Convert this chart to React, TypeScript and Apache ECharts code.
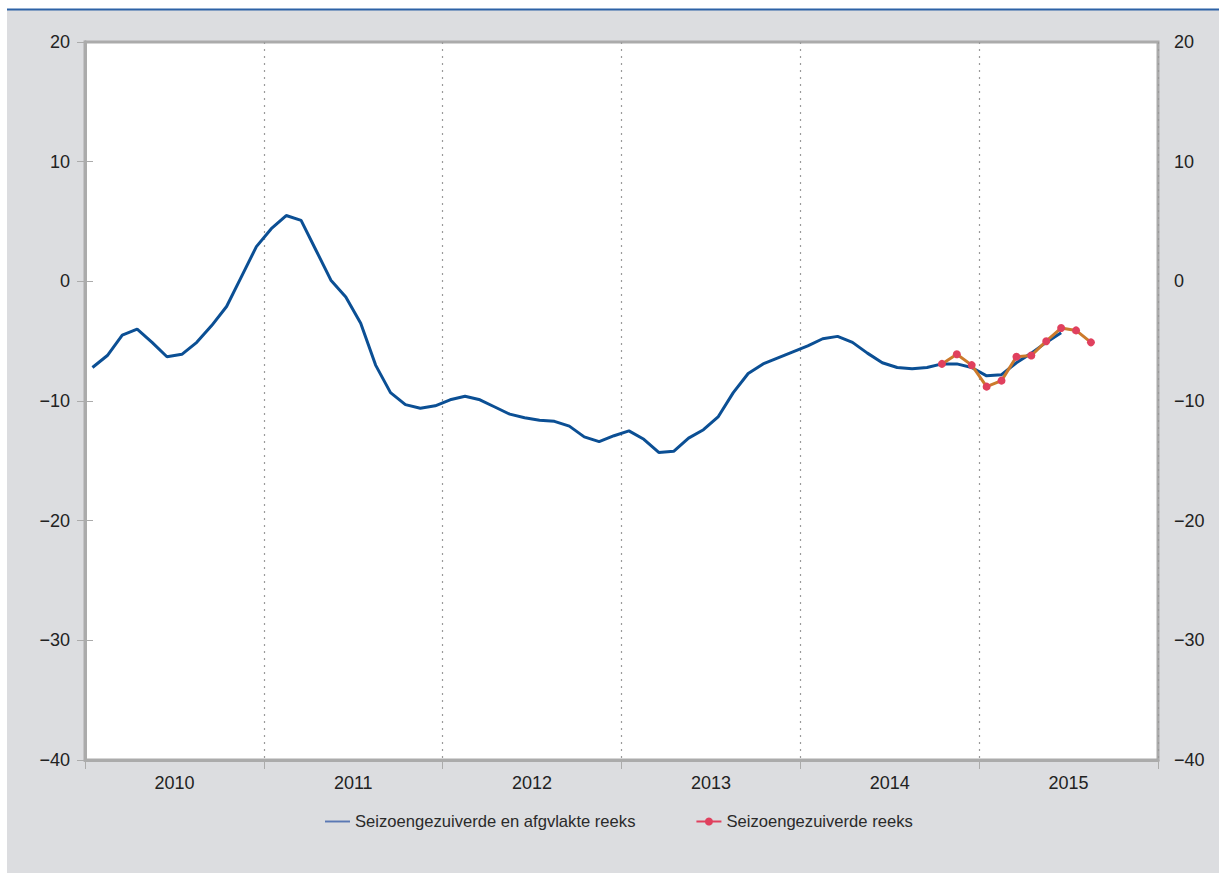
import React, { useEffect, useRef } from "react";
import * as echarts from "echarts";

const years = ["2010", "2011", "2012", "2013", "2014", "2015"];
const seriesNames = ["Seizoengezuiverde en afgvlakte reeks", "Seizoengezuiverde reeks"];

// monthly values starting Jan 2010
const smoothed = [
  -7.2, -6.2, -4.5, -4.0, -5.1, -6.3, -6.1, -5.1, -3.7, -2.1,
  0.4, 2.9, 4.4, 5.5, 5.1, 2.6, 0.1, -1.3, -3.5, -7.0,
  -9.3, -10.3, -10.6, -10.4, -9.9, -9.6, -9.9, -10.5, -11.1, -11.4,
  -11.6, -11.7, -12.1, -13.0, -13.4, -12.9, -12.5, -13.2, -14.3, -14.2,
  -13.1, -12.4, -11.3, -9.3, -7.7, -6.9, -6.4, -5.9, -5.4, -4.8,
  -4.6, -5.1, -6.0, -6.8, -7.2, -7.3, -7.2, -6.9, -6.9, -7.2,
  -7.9, -7.8, -6.8, -6.0, -5.1, -4.3,
];
// starts Oct 2014 (month index 57)
const rawStart = 57;
const raw = [-6.9, -6.1, -7.0, -8.8, -8.3, -6.3, -6.2, -5.0, -3.9, -4.1, -5.1];

const fmtMinus = (v: number) => String(v).replace("-", "\u2212");
const FONT = "Liberation Sans, Arial, sans-serif";

export default function App() {
  const ref = useRef<HTMLDivElement>(null);
  useEffect(() => {
    if (!ref.current) return;
    const chart = echarts.init(ref.current, undefined, { renderer: "svg" });
    chart.setOption({
      animation: false,
      backgroundColor: "#ffffff",
      textStyle: { fontFamily: FONT },
      graphic: [
        {
          type: "rect",
          z: -10,
          silent: true,
          shape: { x: 7, y: 10, width: 1212, height: 863 },
          style: { fill: "#dcdde0" },
        },
        {
          type: "line",
          z: -9,
          silent: true,
          shape: { x1: 7, y1: 9.5, x2: 1219, y2: 9.5 },
          style: { stroke: "#2d62a6", lineWidth: 2 },
        },
      ],
      grid: {
        left: 85,
        right: 61,
        top: 42,
        bottom: 114,
        show: true,
        backgroundColor: "#ffffff",
        borderColor: "#ababab",
        borderWidth: 3,
      },
      legend: {
        left: 320,
        top: 808,
        itemWidth: 25,
        itemHeight: 10,
        itemGap: 60,
        textStyle: { fontSize: 16.6, color: "#2a2a2a", fontFamily: FONT },
        data: [
          { name: seriesNames[0], icon: "path://M0,4L26,4L26,6L0,6Z", itemStyle: { color: "#5a78b4" } },
          { name: seriesNames[1], lineStyle: { color: "#e0405e" }, itemStyle: { color: "#e0405e" } },
        ],
      },
      xAxis: [
        {
          type: "value",
          min: 0,
          max: 72,
          interval: 12,
          position: "bottom",
          axisLine: { show: true, onZero: false, lineStyle: { color: "#ababab", width: 3 } },
          axisTick: { show: true, length: 9, lineStyle: { color: "#ababab", width: 1 } },
          axisLabel: { show: false },
          splitLine: {
            show: true,
            lineStyle: { color: "#9a9a9a", type: [2, 5], width: 1.2 },
          },
        },
        {
          type: "value",
          min: 0,
          max: 72,
          interval: 6,
          position: "bottom",
          offset: 0,
          axisLine: { show: false, onZero: false },
          axisTick: { show: false },
          splitLine: { show: false },
          axisLabel: {
            show: true,
            margin: 14,
            fontSize: 18,
            color: "#222",
            fontFamily: FONT,
            showMinLabel: true,
            showMaxLabel: true,
            formatter: (v: number) => (v % 12 === 6 ? years[(v - 6) / 12] : ""),
          },
        },
      ],
      yAxis: [
        {
          type: "value",
          min: -40,
          max: 20,
          interval: 10,
          position: "left",
          axisLine: { show: true, lineStyle: { color: "#ababab", width: 3 } },
          axisTick: { show: true, length: 8, lineStyle: { color: "#ababab", width: 1 } },
          axisLabel: { margin: 15, fontSize: 18, color: "#222", formatter: fmtMinus, fontFamily: FONT },
          splitLine: { show: false },
        },
        {
          type: "value",
          min: -40,
          max: 20,
          interval: 10,
          position: "right",
          axisLine: { show: true, lineStyle: { color: "#ababab", width: 3 } },
          axisTick: { show: true, length: 8, lineStyle: { color: "#ababab", width: 1 } },
          axisLabel: { margin: 16, fontSize: 18, color: "#222", formatter: fmtMinus, fontFamily: FONT },
          splitLine: { show: false },
        },
      ],
      series: [
        {
          name: seriesNames[0],
          type: "line",
          xAxisIndex: 0,
          yAxisIndex: 0,
          data: smoothed.map((v, i) => [i + 0.5, v]),
          symbol: "none",
          lineStyle: { color: "#0b4f94", width: 3 },
          itemStyle: { color: "#0b4f94" },
          z: 2,
        },
        {
          name: seriesNames[1],
          type: "line",
          xAxisIndex: 0,
          yAxisIndex: 0,
          data: raw.map((v, i) => [rawStart + i + 0.5, v]),
          symbol: "circle",
          symbolSize: 8,
          lineStyle: { color: "#cc7a2c", width: 3 },
          itemStyle: { color: "#e0405e" },
          z: 3,
        },
      ],
    });
    return () => chart.dispose();
  }, []);
  return (
    <div
      ref={ref}
      style={{ position: "absolute", left: 0, top: 0, width: 1219, height: 874 }}
    />
  );
}
